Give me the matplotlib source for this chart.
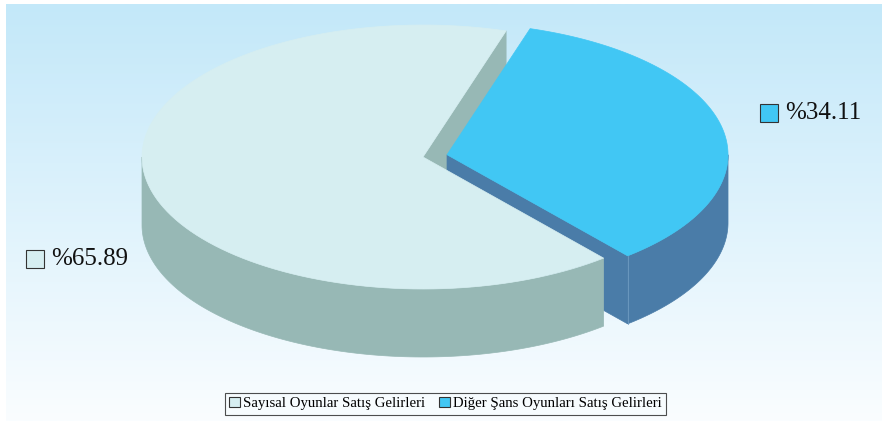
import numpy as np
import matplotlib.pyplot as plt
from matplotlib.patches import Polygon, Rectangle, Patch
from matplotlib.colors import LinearSegmentedColormap

plt.rcParams["font.family"] = ["Liberation Serif", "DejaVu Serif"]

# Share of revenues
labels = ["Sayısal Oyunlar Satış Gelirleri", "Diğer Şans Oyunları Satış Gelirleri"]
values = [65.89, 34.11]
top_colors = ["#D6EEF1", "#41C7F4"]
side_colors = ["#97B8B5", "#4A7CA8"]
explode = [0.0, 24.5]

W, H = 882, 421
fig = plt.figure(figsize=(W / 100, H / 100), dpi=100)
ax = fig.add_axes([0, 0, 1, 1])
ax.set_xlim(0, W)
ax.set_ylim(H, 0)
ax.axis("off")

# background gradient
bg = LinearSegmentedColormap.from_list("bg", ["#C3E8F9", "#FAFDFF"])
grad = np.linspace(0, 1, 256).reshape(-1, 1)
ax.imshow(grad, cmap=bg, extent=[6, W, H, 4], aspect="auto", zorder=0)

# pie geometry (pixels)
cx, cy = 423, 157
rx, ry = 281, 132
depth = 68


def pt(c, theta, z=0.0):
    return (c[0] + rx * np.cos(np.radians(theta)), c[1] - ry * np.sin(np.radians(theta)) + z)


def arc(c, a, b, z=0.0, n=120):
    th = np.linspace(a, b, n)
    return np.column_stack([c[0] + rx * np.cos(np.radians(th)),
                            c[1] - ry * np.sin(np.radians(th)) + z])


# angles: small slice starts at -50 deg counter-clockwise
total = sum(values)
start = -50.0
spans = [v / total * 360 for v in values]
b_a0 = start
b_a1 = start + spans[1]
a_a0 = b_a1
a_a1 = a_a0 + spans[0]
angles = [(a_a0, a_a1), (b_a0, b_a1)]

centers = []
for (a0, a1), e in zip(angles, explode):
    mid = np.radians((a0 + a1) / 2)
    centers.append((cx + e * np.cos(mid), cy - e * np.sin(mid) * ry / rx))


def radial_face(c, theta, color, z):
    p = pt(c, theta)
    q = pt(c, theta, depth)
    poly = [c, p, q, (c[0], c[1] + depth)]
    ax.add_patch(Polygon(poly, closed=True, facecolor=color, edgecolor=color, lw=0.5, zorder=z))


def outer_wall(c, a0, a1, color, z):
    # front half of the cylinder: 180..360 deg (mod 360)
    for lo, hi in [(180, 360), (540, 720), (-180, 0)]:
        s, e = max(a0, lo), min(a1, hi)
        if e > s:
            top = arc(c, s, e)
            bot = arc(c, s, e, depth)[::-1]
            ax.add_patch(Polygon(np.vstack([top, bot]), closed=True,
                                 facecolor=color, edgecolor=color, lw=0.5, zorder=z))


def top_face(c, a0, a1, color, z):
    poly = np.vstack([[c], arc(c, a0, a1)])
    ax.add_patch(Polygon(poly, closed=True, facecolor=color, edgecolor=color, lw=0.5, zorder=z))


# back radial face of the large slice
radial_face(centers[0], a_a0, side_colors[0], 1)
# small slice sides
radial_face(centers[1], b_a0, side_colors[1], 2)
outer_wall(centers[1], b_a0, b_a1, side_colors[1], 2)
# large slice wall and top
outer_wall(centers[0], a_a0, a_a1, side_colors[0], 3)
top_face(centers[0], a_a0, a_a1, top_colors[0], 4)
# small slice top
top_face(centers[1], b_a0, b_a1, top_colors[1], 5)

# highlight on the front corner of the small slice
corner = pt(centers[1], b_a0)
ax.plot([corner[0], corner[0]], [corner[1], corner[1] + depth], color="#6F9CC2", lw=0.6, zorder=6)

# value labels
label_pos = [(26, 259), (760, 113)]
for (x, y), v, col in zip(label_pos, values, top_colors):
    ax.add_patch(Rectangle((x, y - 9), 18, 18, facecolor=col, edgecolor="#333333", lw=0.8, zorder=7))
    ax.text(x + 25, y, "%" + f"{v:.2f}", fontsize=18, va="center", ha="left", color="#111111", zorder=7)

handles = [Patch(facecolor=c, edgecolor="#333333", lw=0.8) for c in top_colors]
leg = fig.legend(handles, labels, loc="center", bbox_to_anchor=(0.505, 0.041), ncol=2,
                 fontsize=10.6, frameon=True, fancybox=False, handlelength=0.7, handleheight=0.7,
                 handletextpad=0.2, columnspacing=1.0, borderpad=0.3, borderaxespad=0)
leg.get_frame().set_edgecolor("#222222")
leg.get_frame().set_linewidth(0.8)
leg.get_frame().set_facecolor("#F7FCFE")

fig.savefig("out.png", dpi=100)
